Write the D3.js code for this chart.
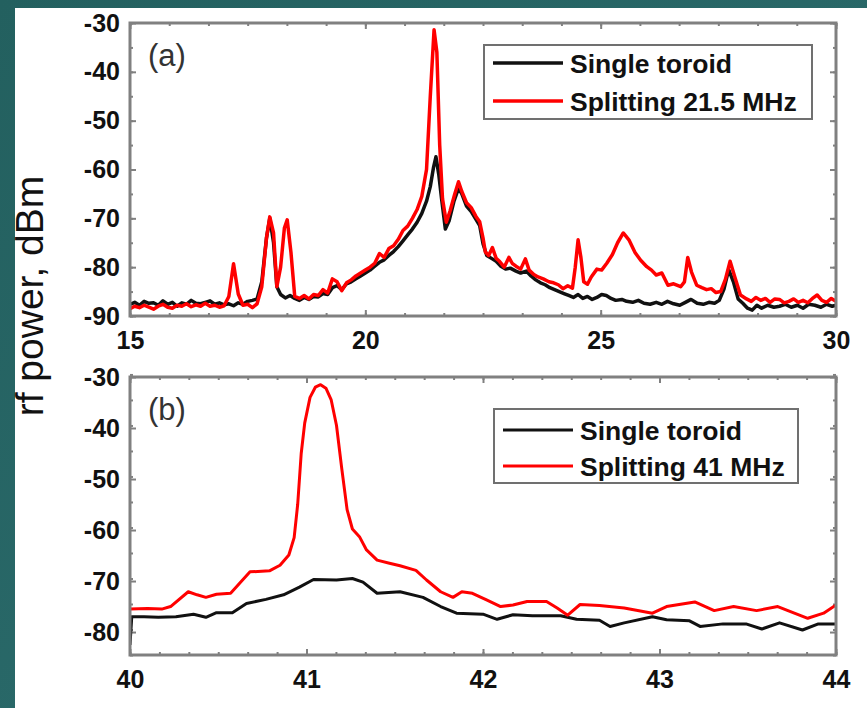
<!DOCTYPE html>
<html>
<head>
<meta charset="utf-8">
<script src="https://cdn.jsdelivr.net/npm/d3@7"></script>
<style>
  body { margin: 0; background: #fff; }
  svg text { font-family: "Liberation Sans", Arial, sans-serif; }
</style>
</head>
<body>
<div id="chart"></div>
<script>
// rf power spectra, two panels

const WIDTH = 867;
const HEIGHT = 708;

// panel (a) data: [frequency MHz, dBm]
const singleA = [
  [15.0,-87.6],[15.1,-87.2],[15.2,-87.8],[15.3,-87.0],[15.4,-87.4],[15.5,-87.3],[15.6,-87.8],[15.7,-86.9],
  [15.8,-87.6],[15.9,-87.2],[16.0,-88.0],[16.1,-87.3],[16.2,-87.6],[16.3,-86.8],[16.4,-87.4],[16.5,-87.5],
  [16.6,-87.2],[16.7,-86.9],[16.8,-87.6],[16.9,-87.3],[17.0,-87.7],[17.1,-87.5],[17.2,-87.9],[17.3,-87.3],
  [17.4,-87.6],[17.5,-87.0],[17.6,-86.8],[17.7,-86.5],[17.8,-83],[17.9,-74],[17.97,-70],[18.05,-75],
  [18.12,-84],[18.2,-85.6],[18.3,-86.3],[18.4,-85.8],[18.5,-86.4],[18.6,-86.8],[18.7,-86.2],[18.8,-86.6],
  [18.9,-86.0],[19.0,-86.1],[19.1,-85.4],[19.2,-85.6],[19.3,-84.2],[19.4,-83.8],[19.5,-84.6],[19.6,-83.4],
  [19.7,-83],[19.8,-82.4],[19.9,-81.8],[20.0,-81.2],[20.1,-80.6],[20.2,-79.8],[20.3,-79],[20.4,-78.5],
  [20.5,-77.6],[20.6,-76.8],[20.7,-75.8],[20.8,-74.6],[20.9,-73.4],[21.0,-72.2],[21.1,-70.8],[21.2,-69],
  [21.3,-66.5],[21.38,-63.5],[21.45,-59.5],[21.5,-57.4],[21.56,-61],[21.62,-66],[21.7,-72.2],[21.78,-70.5],
  [21.88,-66.6],[21.98,-63.8],[22.05,-65],[22.15,-67.5],[22.25,-68.6],[22.35,-70.2],[22.43,-71.5],[22.5,-75.2],
  [22.58,-77.6],[22.68,-78.2],[22.78,-78.8],[22.88,-79.8],[22.98,-80.4],[23.08,-80.2],[23.2,-80.8],[23.3,-81.2],
  [23.42,-80.8],[23.52,-81.8],[23.62,-82.6],[23.72,-83.2],[23.82,-83.6],[23.92,-84.2],[24.02,-84.6],[24.12,-85],
  [24.22,-85.4],[24.32,-85.8],[24.42,-86.2],[24.52,-85.6],[24.62,-86.4],[24.72,-86],[24.82,-86.6],[24.92,-86.2],
  [25.02,-85.6],[25.12,-85.8],[25.22,-86.4],[25.32,-86.8],[25.45,-86.6],[25.55,-87],[25.68,-87.2],[25.8,-86.8],
  [25.92,-87.4],[26.05,-87.6],[26.18,-87.2],[26.3,-87.6],[26.42,-87],[26.55,-87.5],[26.68,-87.8],[26.8,-87.2],
  [26.92,-86.6],[27.05,-87.4],[27.18,-87.6],[27.3,-87.2],[27.42,-87.4],[27.52,-86.8],[27.62,-84.5],[27.72,-80.5],
  [27.82,-83],[27.92,-86.5],[28.02,-87.4],[28.12,-88.4],[28.22,-88.8],[28.32,-87.8],[28.42,-88.4],[28.55,-87.8],
  [28.68,-88.2],[28.8,-88],[28.92,-87.6],[29.05,-88.2],[29.18,-87.8],[29.3,-88.4],[29.42,-87.6],[29.55,-87.8],
  [29.68,-88.2],[29.8,-87.6],[29.92,-88],[30.0,-87.8]
];

const splitA = [
  [15.0,-88.5],[15.1,-88.0],[15.2,-88.3],[15.3,-87.8],[15.4,-88.2],[15.5,-88.6],[15.6,-88.0],[15.7,-87.6],
  [15.8,-88.2],[15.9,-88.4],[16.0,-87.8],[16.1,-88.0],[16.2,-87.5],[16.3,-88.1],[16.4,-87.7],[16.5,-88.0],
  [16.6,-87.4],[16.7,-88.0],[16.8,-87.8],[16.9,-88.2],[17.0,-87.9],[17.1,-86.0],[17.2,-79.3],[17.3,-85.5],
  [17.4,-87.8],[17.5,-87.6],[17.6,-88.3],[17.7,-87.5],[17.8,-84],[17.9,-74],[17.97,-69.7],[18.05,-73],
  [18.12,-84],[18.2,-80],[18.28,-72],[18.34,-70.3],[18.42,-77],[18.5,-86],[18.6,-86.4],[18.7,-85.8],
  [18.8,-86.5],[18.9,-85.6],[19.0,-85.8],[19.1,-84.6],[19.2,-85.3],[19.3,-82.4],[19.4,-83],[19.5,-84.8],
  [19.6,-83.2],[19.7,-82.6],[19.8,-81.8],[19.9,-81.2],[20.0,-80.6],[20.1,-80.0],[20.2,-79.2],[20.3,-77.2],
  [20.4,-78],[20.5,-76.2],[20.6,-75.6],[20.7,-74.3],[20.8,-72.5],[20.9,-71.6],[21.0,-70],[21.1,-68.2],
  [21.2,-65.5],[21.3,-60],[21.38,-45],[21.46,-31.4],[21.52,-36],[21.58,-55],[21.64,-66],[21.72,-70.8],
  [21.8,-68.5],[21.9,-65],[21.98,-62.5],[22.05,-64.5],[22.15,-66.8],[22.25,-67.8],[22.35,-69.6],[22.43,-70.7],
  [22.5,-74],[22.55,-76.9],[22.62,-77.6],[22.7,-76],[22.78,-78.2],[22.85,-78.8],[22.95,-80],[23.05,-78],
  [23.12,-79.2],[23.2,-79.8],[23.3,-80.4],[23.4,-78.3],[23.48,-80.6],[23.58,-81.5],[23.67,-82],[23.78,-82.4],
  [23.9,-83],[24.0,-83.2],[24.1,-83.6],[24.2,-84.4],[24.3,-83.8],[24.4,-84.3],[24.46,-80],[24.52,-74.4],
  [24.58,-78],[24.64,-83],[24.72,-83.5],[24.8,-82],[24.92,-80.4],[25.02,-80.6],[25.13,-79.2],[25.25,-77.4],
  [25.36,-75],[25.48,-73],[25.6,-74.4],[25.73,-77],[25.85,-78.6],[25.98,-79.9],[26.08,-80.6],[26.18,-81.6],
  [26.3,-81.2],[26.43,-83.7],[26.55,-83.4],[26.7,-84],[26.78,-83],[26.85,-78],[26.93,-81],[27.04,-83.7],
  [27.15,-84.2],[27.25,-84.6],[27.35,-84.4],[27.45,-85.2],[27.55,-85],[27.65,-82.5],[27.75,-78.8],[27.85,-82],
  [27.97,-85.7],[28.1,-86.5],[28.2,-87],[28.3,-86.2],[28.4,-86.8],[28.5,-86.4],[28.6,-87.2],[28.7,-86.5],
  [28.8,-86.6],[28.9,-87.3],[29.0,-87],[29.1,-86.5],[29.2,-87.2],[29.3,-86.8],[29.4,-87.3],[29.5,-86.4],
  [29.6,-85.7],[29.7,-86.8],[29.8,-87.2],[29.9,-86.4],[30.0,-87.0]
];

// panel (b) data
const singleB = [
  [40.0,-82.5],[40.01,-77],[40.08,-77],[40.16,-77.1],[40.26,-77],[40.36,-76.5],[40.43,-77.1],[40.49,-76.2],
  [40.58,-76.2],[40.66,-74.4],[40.77,-73.6],[40.87,-72.7],[40.96,-71.2],[41.04,-69.7],[41.17,-69.8],[41.26,-69.5],
  [41.32,-70.2],[41.4,-72.4],[41.53,-72.1],[41.66,-73.2],[41.76,-75],[41.85,-76.3],[42.0,-76.5],[42.08,-77.5],
  [42.17,-76.6],[42.28,-76.8],[42.44,-76.8],[42.53,-77.5],[42.66,-77.7],[42.72,-78.9],[42.8,-78.2],[42.96,-77.0],
  [43.04,-77.6],[43.17,-77.8],[43.23,-78.9],[43.36,-78.4],[43.49,-78.4],[43.58,-79.4],[43.68,-78.2],[43.81,-79.6],
  [43.9,-78.4],[44.0,-78.4]
];

const splitB = [
  [40.0,-75.5],[40.1,-75.4],[40.18,-75.5],[40.23,-75.0],[40.33,-72.1],[40.38,-72.7],[40.43,-73.2],[40.49,-72.6],
  [40.57,-72.4],[40.68,-68.2],[40.79,-68.0],[40.85,-66.9],[40.9,-64.9],[40.93,-61.5],[40.95,-55],[40.97,-45],
  [40.99,-39],[41.02,-34],[41.05,-32],[41.08,-31.5],[41.11,-32.2],[41.14,-34.5],[41.17,-39.5],[41.2,-48],
  [41.23,-56],[41.26,-59.8],[41.3,-61.3],[41.34,-63.9],[41.4,-65.9],[41.47,-66.5],[41.53,-67],[41.62,-67.9],
  [41.68,-69.8],[41.76,-72.1],[41.83,-73.2],[41.88,-72.1],[41.94,-72.4],[42.02,-73.7],[42.1,-75],[42.17,-74.7],
  [42.25,-74],[42.36,-74],[42.42,-75.3],[42.48,-76.7],[42.55,-74.6],[42.66,-74.8],[42.8,-75.3],[42.96,-76.3],
  [43.04,-75.0],[43.2,-74.1],[43.31,-75.8],[43.42,-75],[43.55,-75.8],[43.67,-75],[43.84,-77.3],[43.93,-76.3],
  [44.0,-74.7]
];

// axis ticks
const xTicksA = [15, 20, 25, 30];
const yTicksA = [-30, -40, -50, -60, -70, -80, -90];
const xTicksB = [40, 41, 42, 43, 44];
const yTicksB = [-30, -40, -50, -60, -70, -80];

const legendA = ["Single toroid", "Splitting 21.5 MHz"];
const legendB = ["Single toroid", "Splitting 41 MHz"];

const svg = d3.select("#chart")
  .append("svg")
    .attr("width", WIDTH)
    .attr("height", HEIGHT);

// slide background strip
const grad = svg.append("defs").append("linearGradient")
    .attr("id", "bg").attr("x1", "0").attr("y1", "0").attr("x2", "1").attr("y2", "1");
grad.append("stop").attr("offset", "0").attr("stop-color", "#23605f");
grad.append("stop").attr("offset", "1").attr("stop-color", "#2e6f70");

svg.append("rect").attr("width", WIDTH).attr("height", HEIGHT).attr("fill", "url(#bg)");
svg.append("rect").attr("x", 15).attr("y", 8)
   .attr("width", WIDTH - 15).attr("height", HEIGHT - 8).attr("fill", "#fff");

// y title
svg.append("text")
   .attr("transform", "translate(43,296) rotate(-90)")
   .attr("text-anchor", "middle")
   .attr("font-size", 39)
   .attr("fill", "#111")
   .text("rf power, dBm");

function minorTicks(lo, hi, step) {
  const out = [];
  const n = Math.round((hi - lo) / step);
  for (let i = 0; i <= n; i++) out.push(lo + i * step);
  return out;
}

const plain = d => String(d);

function drawPanel(p) {
  const x = d3.scaleLinear().domain(p.xDomain).range([130, 836]);
  const y = d3.scaleLinear().domain(p.yDomain).range([p.bottom, p.top]);
  const g = svg.append("g");

  const clipId = "clip" + p.tag;
  svg.select("defs").append("clipPath").attr("id", clipId)
    .append("rect").attr("x", 130).attr("y", p.top).attr("width", 706).attr("height", p.bottom - p.top);

  const xMinor = minorTicks(p.xDomain[0], p.xDomain[1], p.xMinor);
  const yMinor = minorTicks(p.yDomain[0], p.yDomain[1], 5);

  // minor ticks on all four sides
  g.append("g").attr("transform", "translate(0," + p.bottom + ")")
    .call(d3.axisBottom(x).tickValues(xMinor).tickSizeInner(-3).tickSizeOuter(0).tickFormat(""));
  g.append("g").attr("transform", "translate(0," + p.top + ")")
    .call(d3.axisTop(x).tickValues(xMinor).tickSizeInner(-3).tickSizeOuter(0).tickFormat(""));
  g.append("g").attr("transform", "translate(130,0)")
    .call(d3.axisLeft(y).tickValues(yMinor).tickSizeInner(-3).tickSizeOuter(0).tickFormat(""));
  g.append("g").attr("transform", "translate(836,0)")
    .call(d3.axisRight(y).tickValues(yMinor).tickSizeInner(-3).tickSizeOuter(0).tickFormat(""));

  // major ticks with labels
  g.append("g").attr("class", "lab").attr("transform", "translate(0," + p.bottom + ")")
    .call(d3.axisBottom(x).tickValues(p.xTicks).tickSizeInner(-6).tickSizeOuter(0).tickPadding(15)
      .tickFormat(plain));
  g.append("g").attr("transform", "translate(0," + p.top + ")")
    .call(d3.axisTop(x).tickValues(p.xTicks).tickSizeInner(-6).tickSizeOuter(0).tickFormat(""));
  g.append("g").attr("class", "lab").attr("transform", "translate(130,0)")
    .call(d3.axisLeft(y).tickValues(p.yTicks).tickSizeInner(-6).tickSizeOuter(0).tickPadding(10)
      .tickFormat(plain));
  g.append("g").attr("transform", "translate(836,0)")
    .call(d3.axisRight(y).tickValues(p.yTicks).tickSizeInner(-6).tickSizeOuter(0).tickFormat(""));

  g.selectAll(".domain").remove();
  g.selectAll(".tick line").attr("stroke", "#808080").attr("stroke-width", 2);
  g.selectAll(".lab text")
    .attr("font-size", 25)
    .attr("font-weight", "bold")
    .attr("fill", "#111")
    .style("font-family", '"Liberation Sans", Arial, sans-serif');

  // lines
  const line = d3.line().x(d => x(d[0])).y(d => y(d[1]));
  const lines = g.append("g").attr("clip-path", "url(#" + clipId + ")");
  lines.append("path").datum(p.single)
    .attr("d", line).attr("fill", "none").attr("stroke", "#111")
    .attr("stroke-width", p.lw).attr("stroke-linejoin", "round");
  lines.append("path").datum(p.split)
    .attr("d", line).attr("fill", "none").attr("stroke", "#ff0000")
    .attr("stroke-width", p.lw).attr("stroke-linejoin", "round");

  // frame
  g.append("rect")
    .attr("x", 130).attr("y", p.top)
    .attr("width", 706).attr("height", p.bottom - p.top)
    .attr("fill", "none").attr("stroke", "#808080").attr("stroke-width", 3);

  // panel letter
  g.append("text")
    .attr("x", 148).attr("y", p.top + 43)
    .attr("font-size", 31).attr("fill", "#333")
    .text(p.letter);

  // legend
  const L = p.legend;
  g.append("rect")
    .attr("x", L.x).attr("y", L.y).attr("width", L.w).attr("height", L.h)
    .attr("fill", "#fff").attr("stroke", "#707070").attr("stroke-width", 2);
  [["#111", L.labels[0], L.y1], ["#ff0000", L.labels[1], L.y2]].forEach(([c, t, ly]) => {
    g.append("line")
      .attr("x1", L.x + 9).attr("x2", L.x + 79).attr("y1", ly).attr("y2", ly)
      .attr("stroke", c).attr("stroke-width", p.lw);
    g.append("text")
      .attr("x", L.x + 86).attr("y", ly + 10)
      .attr("font-size", 26.5).attr("font-weight", "bold").attr("fill", "#111")
      .text(t);
  });
}

drawPanel({
  tag: "a", letter: "(a)",
  xDomain: [15, 30], yDomain: [-90, -30], top: 23, bottom: 316,
  xTicks: xTicksA, yTicks: yTicksA, xMinor: 5 / 6,
  single: singleA, split: splitA, lw: 3.5,
  legend: { x: 484, y: 45, w: 328, h: 74, y1: 63, y2: 101, labels: legendA }
});

drawPanel({
  tag: "b", letter: "(b)",
  xDomain: [40, 44], yDomain: [-84.5, -30], top: 377, bottom: 655,
  xTicks: xTicksB, yTicks: yTicksB, xMinor: 1 / 6,
  single: singleB, split: splitB, lw: 3,
  legend: { x: 494, y: 409, w: 304, h: 74, y1: 430, y2: 466, labels: legendB }
});
</script>
</body>
</html>
